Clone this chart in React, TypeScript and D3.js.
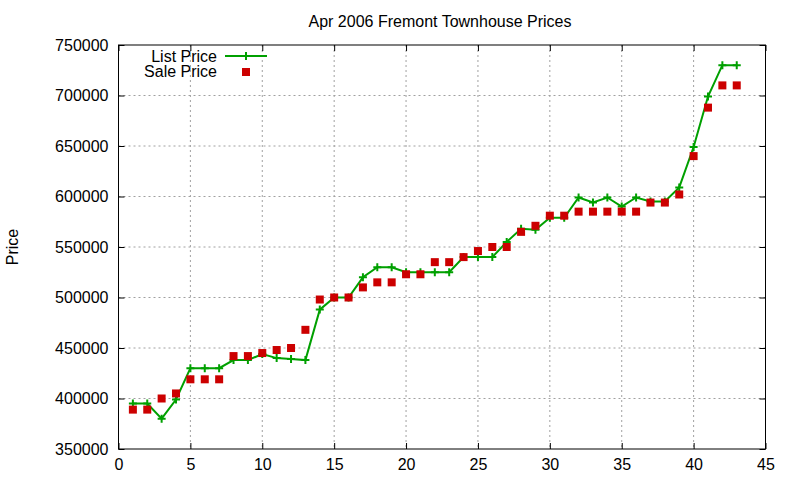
import React, { useEffect, useRef } from 'react';
import * as d3 from 'd3';

// house index (1..43) along the x axis
const houses: number[] = d3.range(1, 44);

const listPrices: number[] = [
  395000, 395000, 380000, 399000, 430000, 430000, 430000, 438000, 438000, 444000,
  440000, 439000, 438000, 488000, 500000, 500000, 520000, 530000, 530000, 525000,
  525000, 525000, 525000, 540000, 540000, 540000, 555000, 568000, 567000, 579000,
  579000, 599000, 594000, 599000, 590000, 599000, 595000, 595000, 609000, 649000,
  699000, 730000, 730000,
];

const salePrices: number[] = [
  389000, 389000, 400000, 405000, 419000, 419000, 419000, 442000, 442000, 445000,
  448000, 450000, 468000, 498000, 500000, 500000, 510000, 515000, 515000, 523000,
  523000, 535000, 535000, 540000, 546000, 550000, 550000, 565000, 571000, 581000,
  581000, 585000, 585000, 585000, 585000, 585000, 594000, 594000, 602000, 640000,
  688000, 710000, 710000,
];

const xTicks: number[] = [0, 5, 10, 15, 20, 25, 30, 35, 40, 45];
const yTicks: number[] = [350000, 400000, 450000, 500000, 550000, 600000, 650000, 700000, 750000];

const FONT = '"Liberation Sans", Arial, sans-serif';
const GREEN = '#00a000';
const RED = '#cc0000';

const Chart: React.FC = () => {
  const svgRef = useRef<SVGSVGElement>(null);

  useEffect(() => {
    if (!svgRef.current) return;
    d3.select(svgRef.current).selectAll('*').remove();

    const width = 800;
    const height = 480;
    const margin = { top: 45, right: 34.5, bottom: 31, left: 118.5 };
    const innerWidth = width - margin.left - margin.right;
    const innerHeight = height - margin.top - margin.bottom;

    const svg = d3.select(svgRef.current).attr('width', width).attr('height', height);

    svg.append('rect').attr('width', width).attr('height', height).attr('fill', '#fff');

    const x = d3.scaleLinear().domain([0, 45]).range([0, innerWidth]);
    const y = d3.scaleLinear().domain([350000, 750000]).range([innerHeight, 0]);

    const g = svg.append('g').attr('transform', `translate(${margin.left},${margin.top})`);

    // grid
    g.append('g')
      .selectAll('line')
      .data(xTicks.slice(1, -1))
      .join('line')
      .attr('x1', (d) => x(d))
      .attr('x2', (d) => x(d))
      .attr('y1', 0)
      .attr('y2', innerHeight)
      .attr('stroke', '#a0a0a0')
      .attr('stroke-dasharray', '2,3');

    g.append('g')
      .selectAll('line')
      .data(yTicks.slice(1, -1))
      .join('line')
      .attr('x1', 0)
      .attr('x2', innerWidth)
      .attr('y1', (d) => y(d))
      .attr('y2', (d) => y(d))
      .attr('stroke', '#a0a0a0')
      .attr('stroke-dasharray', '2,3');

    // axes, ticks pointing inward and mirrored
    const tickLen = 6;
    g.append('g')
      .attr('transform', `translate(0,${innerHeight})`)
      .call(d3.axisBottom(x).tickValues(xTicks).tickSizeInner(-tickLen).tickSizeOuter(0).tickPadding(10))
      .call((a) => a.select('.domain').remove())
      .attr('font-family', FONT)
      .attr('font-size', 16);

    g.append('g')
      .call(d3.axisTop(x).tickValues(xTicks).tickSizeInner(-tickLen).tickSizeOuter(0).tickFormat(() => ''))
      .call((a) => a.select('.domain').remove());

    g.append('g')
      .call(d3.axisLeft(y).tickValues(yTicks).tickSizeInner(-tickLen).tickSizeOuter(0).tickPadding(10).tickFormat(d3.format('d')))
      .call((a) => a.select('.domain').remove())
      .attr('font-family', FONT)
      .attr('font-size', 16);

    g.append('g')
      .attr('transform', `translate(${innerWidth},0)`)
      .call(d3.axisRight(y).tickValues(yTicks).tickSizeInner(-tickLen).tickSizeOuter(0).tickFormat(() => ''))
      .call((a) => a.select('.domain').remove());

    g.selectAll('.tick text').attr('fill', '#000');
    g.selectAll('.tick line').attr('stroke', '#000');

    // frame
    g.append('rect')
      .attr('width', innerWidth)
      .attr('height', innerHeight)
      .attr('fill', 'none')
      .attr('stroke', '#000');

    // list price line
    const line = d3
      .line<number>()
      .x((_, i) => x(houses[i]))
      .y((d) => y(d));

    g.append('path')
      .datum(listPrices)
      .attr('d', line)
      .attr('fill', 'none')
      .attr('stroke', GREEN)
      .attr('stroke-width', 2);

    const plus = (sel: d3.Selection<SVGGElement, unknown, null, undefined>, cx: number, cy: number) => {
      sel.append('path')
        .attr('d', `M${cx - 4},${cy}H${cx + 4}M${cx},${cy - 4}V${cy + 4}`)
        .attr('stroke', GREEN)
        .attr('stroke-width', 2);
    };

    const pts = g.append('g');
    listPrices.forEach((d, i) => plus(pts, x(houses[i]), y(d)));

    // sale price squares
    g.append('g')
      .selectAll('rect')
      .data(salePrices)
      .join('rect')
      .attr('x', (d, i) => x(houses[i]) - 4)
      .attr('y', (d) => y(d) - 4)
      .attr('width', 8)
      .attr('height', 8)
      .attr('fill', RED);

    // legend
    const leg = svg.append('g').attr('font-family', FONT).attr('font-size', 16);
    leg.append('text').attr('x', 217).attr('y', 61.5).attr('text-anchor', 'end').text('List Price');
    leg.append('line')
      .attr('x1', 225).attr('x2', 267).attr('y1', 56).attr('y2', 56)
      .attr('stroke', GREEN).attr('stroke-width', 2);
    plus(leg, 246, 56);
    leg.append('text').attr('x', 217).attr('y', 77).attr('text-anchor', 'end').text('Sale Price');
    leg.append('rect').attr('x', 242).attr('y', 68).attr('width', 8).attr('height', 8).attr('fill', RED);

    // title and y label
    svg.append('text')
      .attr('x', 440)
      .attr('y', 27)
      .attr('text-anchor', 'middle')
      .attr('font-family', FONT)
      .attr('font-size', 16)
      .text('Apr 2006 Fremont Townhouse Prices');

    svg.append('text')
      .attr('transform', 'translate(18,247) rotate(-90)')
      .attr('text-anchor', 'middle')
      .attr('font-family', FONT)
      .attr('font-size', 16)
      .text('Price');
  }, []);

  return <svg ref={svgRef} style={{ position: 'absolute', left: 0, top: 0 }}></svg>;
};

export default function App() {
  return <Chart />;
}
